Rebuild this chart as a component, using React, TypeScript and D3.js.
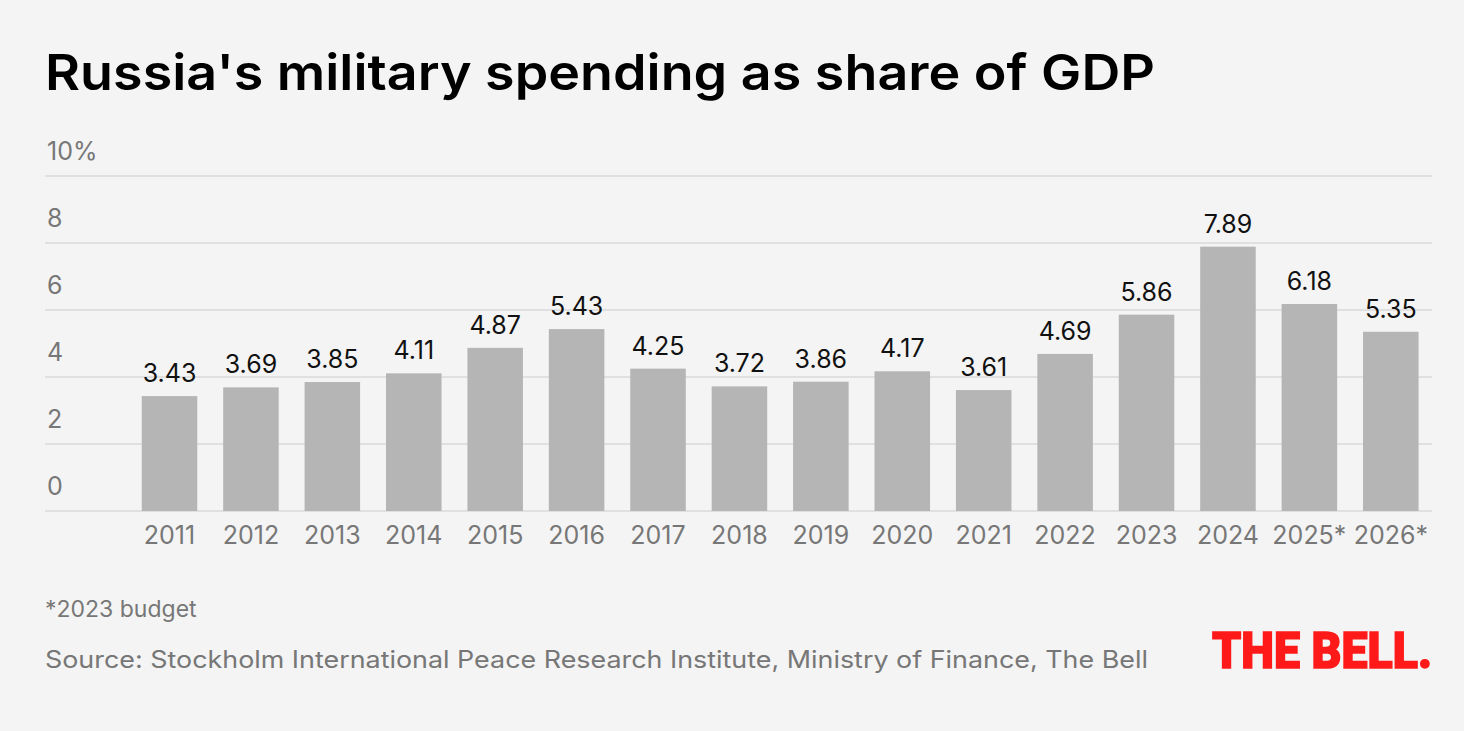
import React from "react";
import * as d3 from "d3";

const years = ["2011","2012","2013","2014","2015","2016","2017","2018","2019","2020","2021","2022","2023","2024","2025*","2026*"];
const values = [3.43,3.69,3.85,4.11,4.87,5.43,4.25,3.72,3.86,4.17,3.61,4.69,5.86,7.89,6.18,5.35];
const yTicks = [0,2,4,6,8,10];
const title = "Russia's military spending as share of GDP";
const footnote = "*2023 budget";
const source = "Source: Stockholm International Peace Research Institute, Ministry of Finance, The Bell";
const logo = "THE BELL.";

const W = 1464, H = 731;
const FONT = "Inter, 'Noto Sans', sans-serif";

export default function App() {
  const x = d3.scaleBand<string>().domain(years).range([128.8, 1431.5]).paddingInner(0.318).paddingOuter(0.159);
  const y = d3.scaleLinear().domain([0, 10]).range([511, 176]);
  return (
    <svg width={W} height={H} style={{ position: "absolute", left: 0, top: 0, background: "#f4f4f4" }}>
      <rect x={0} y={0} width={W} height={H} fill="#f4f4f4" />
      <text x={45} y={90} fontFamily={FONT} fontWeight={600} fontSize={50} fill="#000" textLength={1110} lengthAdjust="spacingAndGlyphs">{title}</text>
      {yTicks.map(t => (
        <g key={t}>
          <line x1={45} x2={1432} y1={y(t)} y2={y(t)} stroke="#e0e0e0" strokeWidth={2} />
          <text x={47} y={y(t) - 16} fontFamily={FONT} fontSize={25} fill="#777">{t === 10 ? "10%" : String(t)}</text>
        </g>
      ))}
      {years.map((yr, i) => (
        <g key={yr}>
          <rect x={x(yr)} y={y(values[i])} width={x.bandwidth()} height={y(0) - y(values[i])} fill="#b5b5b5" />
          <text x={(x(yr) as number) + x.bandwidth() / 2} y={y(values[i]) - 14} textAnchor="middle" fontFamily={FONT} fontSize={25} fill="#111">{values[i].toFixed(2)}</text>
          <text x={(x(yr) as number) + x.bandwidth() / 2} y={544} textAnchor="middle" fontFamily={FONT} fontSize={25} fill="#777">{yr}</text>
        </g>
      ))}
      <text x={45} y={617} fontFamily={FONT} fontSize={23} fill="#777">{footnote}</text>
      <text x={45} y={668} fontFamily={FONT} fontSize={24} fill="#777" textLength={1103} lengthAdjust="spacingAndGlyphs">{source}</text>
      <text x={1212} y={668} fontFamily="Roboto, 'DejaVu Sans Condensed', sans-serif" fontWeight={900} fontSize={50} fill="#ff1a1a" stroke="#ff1a1a" strokeWidth={1.5} textLength={220} lengthAdjust="spacingAndGlyphs">{logo}</text>
    </svg>
  );
}
